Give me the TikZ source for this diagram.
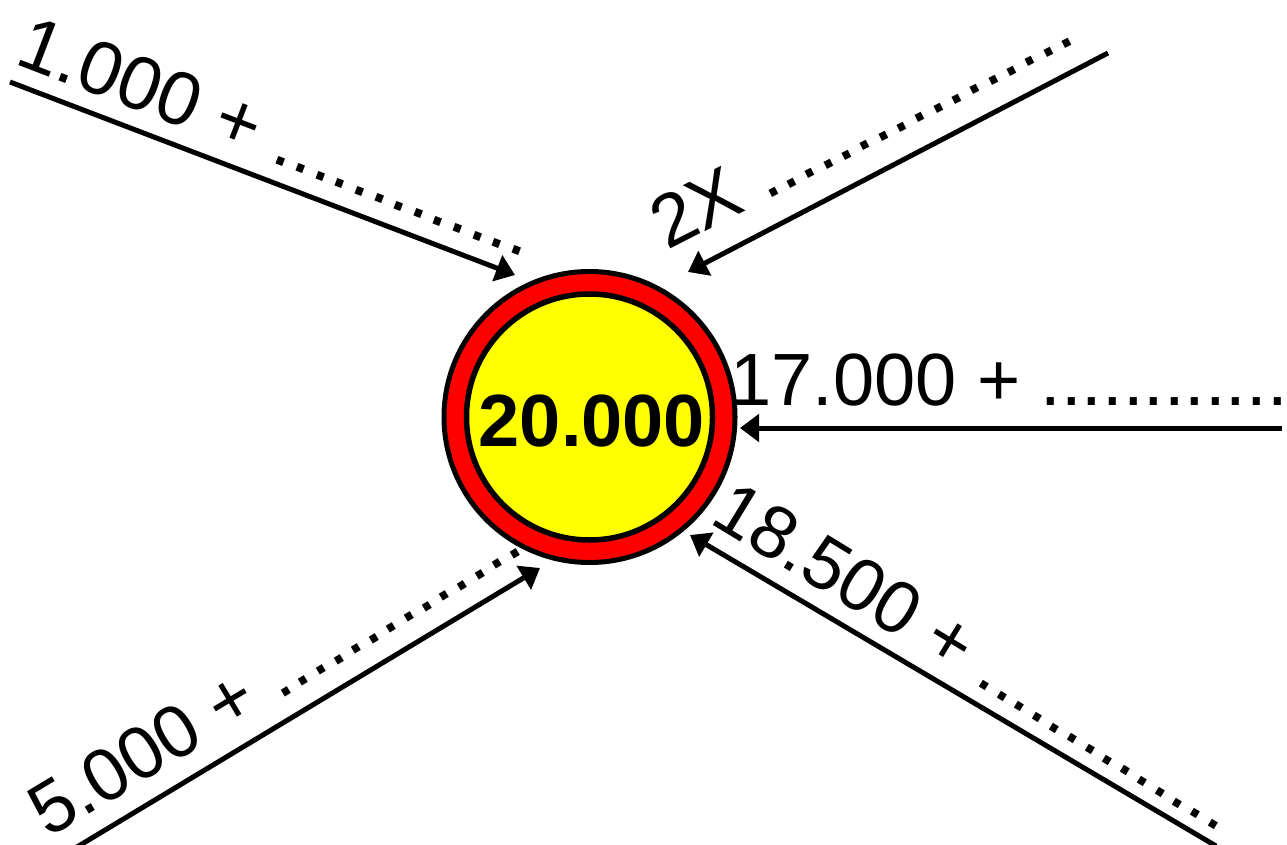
\documentclass[tikz,border=0pt]{standalone}
\usepackage{fontspec}
\setmainfont{Liberation Sans}
\usetikzlibrary{arrows.meta}
\definecolor{ringred}{RGB}{255,0,0}
\definecolor{coreyellow}{RGB}{255,255,0}
\begin{document}
\begin{tikzpicture}[x=1pt,y=-1pt,
  conn/.style={line width=5pt, -{Triangle[length=19pt,width=27pt]}},
  lbl/.style={anchor=base west, inner sep=0pt, font=\fontsize{74}{80}\selectfont},
  ring/.style={circle, draw=black, inner sep=0pt}
]
\useasboundingbox (0,0) rectangle (1287,845);
\clip (0,0) rectangle (1287,845);
% circle
\node[ring, line width=5pt, fill=ringred, minimum size=291pt] (outer) at (589.5,417) {};
\node[ring, line width=5.5pt, fill=coreyellow, minimum size=246pt] (inner) at (589.5,417) {};
\node[inner sep=0pt, font=\bfseries\fontsize{74}{80}\selectfont] (val) at (592,421.5) {20.000};
% connector ends
\coordinate (s1) at (10,82);    \coordinate (t1) at (515,275);
\coordinate (s2) at (1108,53);  \coordinate (t2) at (688,272);
\coordinate (s3) at (1282,428); \coordinate (t3) at (740,428);
\coordinate (s4) at (72,850);   \coordinate (t4) at (540,568);
\coordinate (s5) at (1216,846); \coordinate (t5) at (690,535);
\draw[conn] (s1) -- (t1);
\draw[conn] (s2) -- (t2);
\draw[conn] (s3) -- (t3);
\draw[conn] (s4) -- (t4);
\draw[conn] (s5) -- (t5);
% labels
\node[lbl, rotate=-20.9, font=\fontsize{75.5}{80}\selectfont] (l1) at (13,63) {1.000 + .............};
\node[lbl, rotate=27] (l2) at (667,251) {2X .................};
\node[lbl] (l3) at (730,405) {17.000 + .............};
\node[lbl, rotate=31] (l4) at (48,839) {5.000 + ..............};
\node[lbl, rotate=-31.3] (l5) at (708,522) {18.500 + ..............};
\end{tikzpicture}
\end{document}
